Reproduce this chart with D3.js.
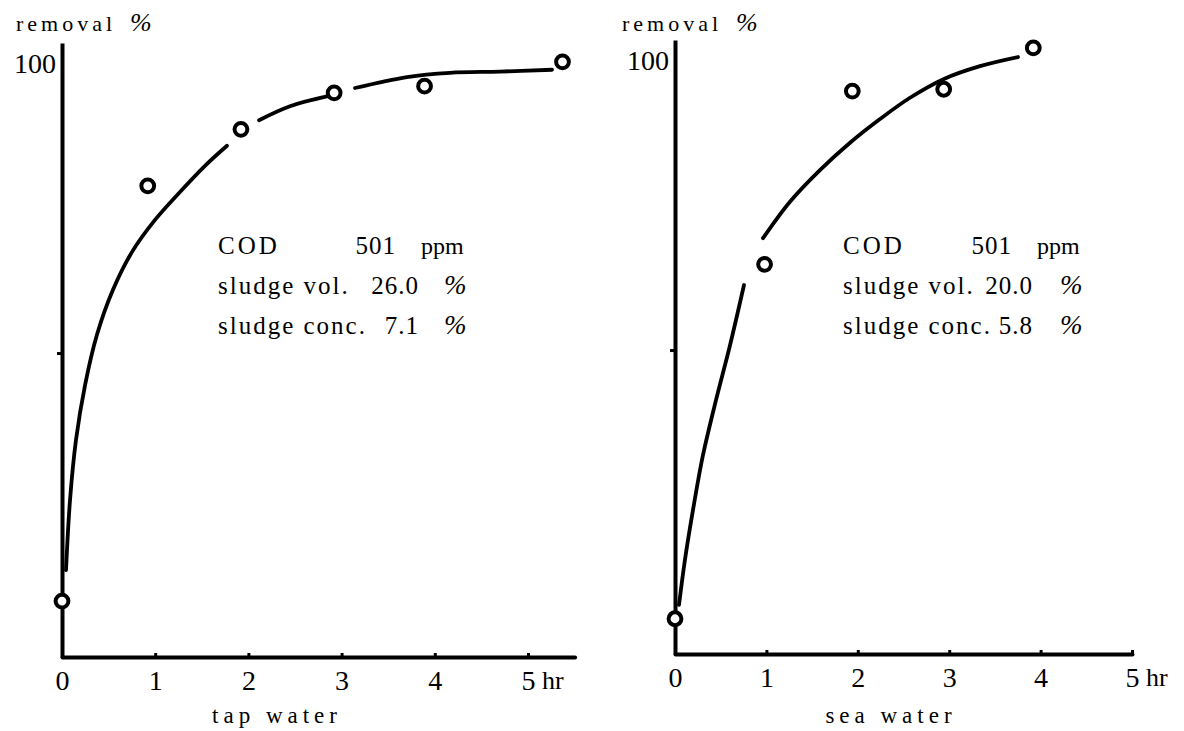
<!DOCTYPE html>
<html>
<head>
<meta charset="utf-8">
<script src="https://cdn.jsdelivr.net/npm/d3@7"></script>
<style>
  html, body { margin: 0; padding: 0; background: #fff; }
  svg { display: block; font-family: "Liberation Serif", "Times New Roman", serif; }
</style>
</head>
<body>
<svg id="chart" width="1184" height="731"></svg>
<script>
// ---- data ----------------------------------------------------------------
const hourTicks = [0, 1, 2, 3, 4, 5];

// measured COD removal (%) against aeration time (hr)
const tapHours   = [0, 0.92, 1.92, 2.92, 3.89, 5.37];
const tapRemoval = [9.2, 77.5, 86.8, 92.8, 93.9, 97.9];
const seaHours   = [0, 0.98, 1.94, 2.94, 3.92];
const seaRemoval = [5.8, 64.1, 92.6, 92.9, 99.7];

// hand-drawn trend curves; null marks a break in the pen stroke
const tapCurveHours   = [0.043, 0.086, 0.150, 0.247, 0.375, 0.547, 0.750, 0.998, 1.266, 1.534, 1.770, null,
                         2.114, 2.446, 2.865, null,
                         3.144, 3.702, 4.163, 4.700, 5.258];
const tapCurveRemoval = [14.3, 25.8, 35.7, 44.7, 53.0, 60.4, 66.6, 71.9, 76.5, 80.8, 84.1, null,
                         88.3, 90.6, 92.3, null,
                         93.6, 95.4, 96.1, 96.3, 96.6];
const seaCurveHours   = [0.044, 0.109, 0.197, 0.306, 0.449, 0.602, 0.755, null,
                         0.963, 1.258, 1.586, 1.915, 2.243, 2.571, 2.943, 3.337, 3.753];
const seaCurveRemoval = [8.1, 15.5, 23.7, 32.7, 41.8, 50.8, 60.7, null,
                         68.4, 74.4, 79.6, 84.1, 88.0, 91.5, 94.6, 96.7, 98.2];

// test conditions printed inside each panel
const infoLabels = ["COD", "sludge vol.", "sludge conc."];
const infoUnits  = ["ppm", "%", "%"];
const tapInfo    = ["501", "26.0", "7.1"];
const seaInfo    = ["501", "20.0", "5.8"];

const yTicks = [50, 100];
const yTitle = "removal";
const xUnit  = "hr";

// ---- drawing -------------------------------------------------------------
const svg = d3.select("#chart");

const panels = [
  {
    name: "tap water", hours: tapHours, removal: tapRemoval,
    curveH: tapCurveHours, curveR: tapCurveRemoval, info: tapInfo,
    xDomain: [0, 5.5], xRange: [62, 574.6], yRange: [657, 43],
    titleX: 16, infoX: 218, valEnd: [178, 201, 201], unitX: [203, 226, 226],
    captionX: 277
  },
  {
    name: "sea water", hours: seaHours, removal: seaRemoval,
    curveH: seaCurveHours, curveR: seaCurveRemoval, info: seaInfo,
    xDomain: [0, 5], xRange: [675, 1132], yRange: [654, 40],
    titleX: 622, infoX: 843, valEnd: [169, 190, 190], unitX: [194, 217, 217],
    captionX: 891
  }
];

panels.forEach(p => {
  const x = d3.scaleLinear().domain(p.xDomain).range(p.xRange);
  const y = d3.scaleLinear().domain([0, 101]).range(p.yRange);
  const g = svg.append("g");

  // y axis: plain spine, a short tick at 50 and the "100" mark
  const yAxis = g.append("g")
    .attr("transform", `translate(${x(0)},0)`)
    .call(d3.axisLeft(y).tickValues(yTicks).tickSize(5).tickSizeOuter(0).tickPadding(1)
      .tickFormat(d => d === 100 ? "100" : ""));
  yAxis.select(".domain").attr("stroke", "#000").attr("stroke-width", 4);
  yAxis.selectAll(".tick line").attr("stroke", "#000").attr("stroke-width", 3)
    .attr("stroke-opacity", d => d === 100 ? 0 : 1);
  yAxis.selectAll(".tick text")
    .attr("y", 14)
    .attr("fill", "#000")
    .style("font-family", "Liberation Serif")
    .style("font-size", "28px");

  // x axis with small inward ticks
  const xAxis = g.append("g")
    .attr("transform", `translate(0,${y(0)})`)
    .call(d3.axisBottom(x).tickValues(hourTicks).tickSize(-4).tickSizeOuter(0).tickPadding(13)
      .tickFormat(d3.format("d")));
  xAxis.select(".domain").attr("stroke", "#000").attr("stroke-width", 4).attr("stroke-linecap", "round");
  xAxis.selectAll(".tick line").attr("stroke", "#000").attr("stroke-width", 3);
  xAxis.selectAll(".tick text")
    .attr("fill", "#000")
    .style("font-family", "Liberation Serif")
    .style("font-size", "28px");

  // unit after the last hour label
  g.append("text")
    .attr("x", x(5) + 14)
    .attr("y", y(0) + 32)
    .style("font-size", "26px")
    .text(xUnit);

  // axis title
  const title = g.append("text")
    .attr("x", p.titleX)
    .attr("y", 31)
    .style("font-size", "22px")
    .style("letter-spacing", "4px");
  title.append("tspan").text(yTitle);
  title.append("tspan").attr("dx", 14).style("font-style", "italic").style("font-size", "26px")
    .style("letter-spacing", "0px").text("%");

  // panel caption
  g.append("text")
    .attr("x", p.captionX)
    .attr("y", 723)
    .attr("text-anchor", "middle")
    .style("font-size", "23px")
    .style("letter-spacing", "5px")
    .text(p.name);

  // trend curve
  const pts = p.curveH.map((h, i) => [h, p.curveR[i]]);
  const line = d3.line()
    .defined(d => d[0] !== null && d[1] !== null)
    .x(d => x(d[0]))
    .y(d => y(d[1]))
    .curve(d3.curveCatmullRom.alpha(0.5));
  g.append("path")
    .datum(pts)
    .attr("d", line)
    .attr("fill", "none")
    .attr("stroke", "#000")
    .attr("stroke-width", 3.8)
    .attr("stroke-linecap", "round");

  // measured points as open circles
  g.selectAll("circle.obs")
    .data(p.hours.map((h, i) => [h, p.removal[i]]))
    .join("circle")
    .attr("class", "obs")
    .attr("cx", d => x(d[0]))
    .attr("cy", d => y(d[1]))
    .attr("r", 6.4)
    .attr("fill", "#fff")
    .attr("stroke", "#000")
    .attr("stroke-width", 4);

  // condition table
  const rowY = [254, 294, 334];
  infoLabels.forEach((lab, i) => {
    g.append("text")
      .attr("x", p.infoX).attr("y", rowY[i])
      .style("font-size", "25px")
      .style("letter-spacing", i === 0 ? "3px" : "2px")
      .text(lab);
    g.append("text")
      .attr("x", p.infoX + p.valEnd[i]).attr("y", rowY[i])
      .attr("text-anchor", "end")
      .style("font-size", "25px")
      .style("letter-spacing", "1px")
      .text(p.info[i]);
    g.append("text")
      .attr("x", p.infoX + p.unitX[i]).attr("y", rowY[i])
      .style("font-size", infoUnits[i] === "%" ? "27px" : "24px")
      .style("font-style", infoUnits[i] === "%" ? "italic" : "normal")
      .text(infoUnits[i]);
  });
});
</script>
</body>
</html>
